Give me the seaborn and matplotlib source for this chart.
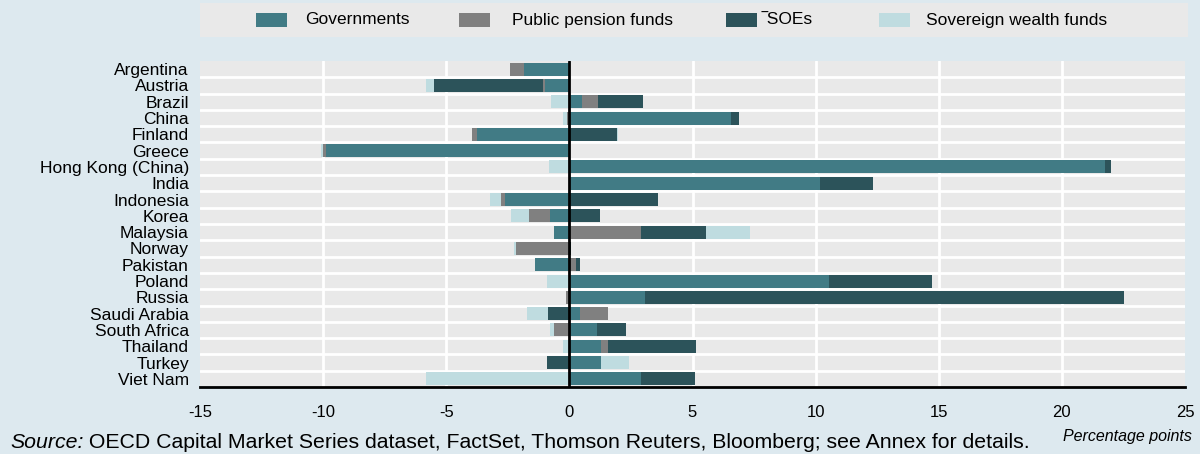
import matplotlib
matplotlib.use('Agg')
import matplotlib.pyplot as plt
import seaborn as sns
import pandas as pd
from matplotlib.patches import Rectangle

# values (percentage points)
countries = ['Argentina', 'Austria', 'Brazil', 'China', 'Finland', 'Greece',
             'Hong Kong (China)', 'India', 'Indonesia', 'Korea', 'Malaysia',
             'Norway', 'Pakistan', 'Poland', 'Russia', 'Saudi Arabia',
             'South Africa', 'Thailand', 'Turkey', 'Viet Nam']
governments = [-1.85, -0.99, 0.5, 6.55, -3.77, -9.9, 21.75, 10.17, -2.6, -0.8,
               -0.62, 0.0, -1.38, 10.55, 3.07, 0.45, 1.12, 1.27, 1.27, 2.9]
pension = [-0.55, -0.07, 0.67, -0.08, -0.18, -0.12, 0.0, 0.0, -0.16, -0.84,
           2.9, -2.15, 0.25, 0.0, -0.12, 1.1, -0.62, 0.3, 0.0, 0.0]
soes = [0.0, -4.45, 1.8, 0.32, 1.92, 0.0, 0.25, 2.16, 3.6, 1.26,
        2.65, 0.08, 0.2, 4.16, 19.47, -0.88, 1.18, 3.56, -0.9, 2.22]
swf = [0.0, -0.33, -0.73, -0.18, 0.07, -0.05, -0.84, 0.0, -0.48, -0.72,
       1.8, -0.11, 0.0, -0.9, 0.0, -0.84, -0.17, -0.26, 1.14, -5.84]

series = ['Governments', 'Public pension funds', 'SOEs', 'Sovereign wealth funds']
legend_labels = ['Governments', 'Public pension funds', '\u203eSOEs', 'Sovereign wealth funds']
colors = ['#417b85', '#808080', '#2c535a', '#bfdce0']
x_ticks = [-15, -10, -5, 0, 5, 10, 15, 20, 25]

bg = '#dde9ef'
panel = '#e9e9e9'
fonts = ['Liberation Sans', 'DejaVu Sans']

sns.set_style('white')
plt.rcParams['font.family'] = fonts
plt.rcParams['text.color'] = 'black'
plt.rcParams['xtick.color'] = 'black'
plt.rcParams['ytick.color'] = 'black'

df = pd.DataFrame(dict(zip(series, [governments, pension, soes, swf])), index=countries)
pos = df.clip(lower=0).cumsum(axis=1)
neg = df.clip(upper=0).cumsum(axis=1)

fig = plt.figure(figsize=(12, 4.54), dpi=100, facecolor=bg)
ax = fig.add_axes([200 / 1200, 1 - 387 / 454, 985 / 1200, 326 / 454])
ax.set_facecolor(panel)

# stacked diverging bars: draw cumulative totals from outermost to innermost
for stack in (pos, neg):
    for col, c in reversed(list(zip(series, colors))):
        d = pd.DataFrame({'country': countries, 'value': stack[col].values})
        sns.barplot(data=d, x='value', y='country', orient='h', color=c,
                    saturation=1, width=0.8, errorbar=None, linewidth=0, ax=ax)

ax.set_xlim(-15, 25)
ax.set_ylim(len(countries) - 0.5, -0.5)
for x in x_ticks[1:-1]:
    ax.axvline(x, color='white', lw=2, zorder=0.5)
for i in range(len(countries) - 1):
    ax.axhline(i + 0.5, color='white', lw=2, zorder=0.5)
ax.axvline(0, color='black', lw=2, zorder=5)

for s in ['top', 'right', 'left']:
    ax.spines[s].set_visible(False)
ax.spines['bottom'].set_color('black')
ax.spines['bottom'].set_linewidth(2)
ax.set_xticks(x_ticks)
ax.set_xticklabels([str(t) for t in x_ticks])
ax.tick_params(axis='x', direction='in', length=4, width=2, color='black',
               labelcolor='black', labelsize=12, pad=13)
ax.tick_params(axis='y', length=0, labelcolor='black', labelsize=12.5, pad=8)
ax.set_xlabel('')
ax.set_ylabel('')

# legend panel
fig.patches.append(Rectangle((200 / 1200, 1 - 37 / 454), 988 / 1200, 34 / 454,
                             transform=fig.transFigure, facecolor=panel,
                             edgecolor='none'))
patch_x = [256, 459, 726, 879]
text_x = [305, 512, 762, 926]
for px, tx, lab, c in zip(patch_x, text_x, legend_labels, colors):
    fig.patches.append(Rectangle((px / 1200, 1 - 27 / 454), 31 / 1200, 14 / 454,
                                 transform=fig.transFigure, facecolor=c,
                                 edgecolor='none'))
    fig.text(tx / 1200, 1 - 20 / 454, lab, fontsize=12.5, va='center', ha='left')

src = fig.text(10 / 1200, 2 / 454, 'Source:', fontsize=15.3,
               style='italic', va='bottom', ha='left')
ax.annotate(' OECD Capital Market Series dataset, FactSet, Thomson Reuters, '
            'Bloomberg; see Annex for details.', xy=(1, 0), xycoords=src,
            fontsize=15.3, va='bottom', ha='left', annotation_clip=False)
fig.text(1192 / 1200, 1 - 437 / 454, 'Percentage points', fontsize=11.5,
         style='italic', va='center', ha='right')

fig.savefig('out.png', dpi=100, facecolor=bg)
